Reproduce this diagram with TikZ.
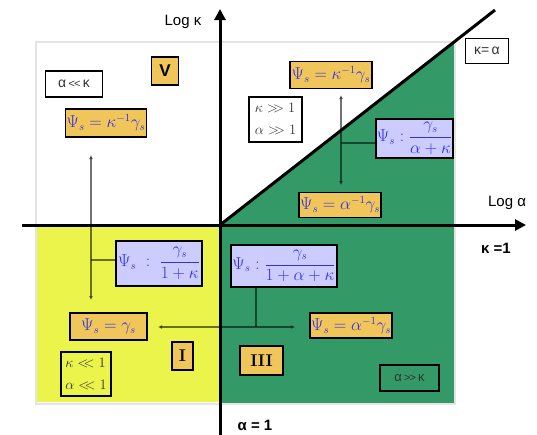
\documentclass[tikz,border=0pt]{standalone}
\usepackage{fontspec}
\newfontfamily\lblfont{Liberation Sans}
\usetikzlibrary{arrows.meta}
\definecolor{ggreen}{HTML}{339966}
\definecolor{yyellow}{HTML}{EAF44B}
\definecolor{oorange}{HTML}{F0C55A}
\definecolor{llav}{HTML}{CCCCFF}
\definecolor{bblue}{HTML}{3030F0}
\definecolor{fframe}{HTML}{E4E4E4}
\definecolor{ddark}{HTML}{333333}
\tikzset{
  mbox/.style={draw=black, line width=1.2pt, inner sep=0pt, text=bblue,
    font=\fontsize{16}{18}\selectfont},
  obox/.style={mbox, fill=oorange},
  lbox/.style={mbox, fill=llav},
  tbox/.style={draw=black, line width=1.2pt, inner sep=0pt, text=ddark},
  roman/.style={draw=black, line width=1.2pt, inner sep=0pt, fill=oorange,
    font=\fontsize{17}{19}\selectfont\bfseries},
  axisline/.style={line width=3pt, -{Triangle[length=11pt,width=11pt]}},
  conn/.style={black, opacity=0.55, line width=1.3pt},
  carrow/.style={conn, {Latex[length=4pt,width=4pt]}-{Latex[length=4pt,width=4pt]}},
  lbl/.style={inner sep=0pt, font=\lblfont\fontsize{15}{17}\selectfont}
}
\newcommand{\gtgt}{\mathrel{>\!\!>}}
\newcommand{\ltlt}{\mathrel{<\!\!<}}
\newcommand{\dfr}[2]{{\displaystyle\frac{#1}{#2}}}
\begin{document}
\begin{tikzpicture}[x=1pt,y=-1pt]
\useasboundingbox (0,0) rectangle (537,434);
\fill[white] (0,0) rectangle (537,434);
% regions
\fill[yyellow] (35,225) rectangle (220,402);
\fill[ggreen] (220,225) rectangle (455,403);
\fill[ggreen] (220,225) -- (455,42) -- (455,225) -- cycle;
\draw[fframe, line width=1.5pt] (36,42) rectangle (455,404);

% boxes
\node[tbox, fill=white, minimum width=43pt, minimum height=25pt,
  font=\lblfont\fontsize{14}{16}\selectfont] (kalpha) at (487,51) {κ=\,α};
\node[tbox, fill=white, minimum width=57pt, minimum height=26pt,
  font=\lblfont\fontsize{14}{16}\selectfont] (allk) at (74,84) {α\,{\fontsize{11}{12}\selectfont<\kern-1pt<}\,κ};
\node[roman, minimum width=27pt, minimum height=28pt, font=\lblfont\fontsize{17}{19}\selectfont\bfseries] (V) at (165,71) {V};
\node[obox, minimum width=81pt, minimum height=28pt] (psiL) at (106,123) {$\Psi_s=\kappa^{-1}\gamma_s$};
\node[obox, minimum width=82pt, minimum height=27pt] (psiR) at (331,75) {$\Psi_s=\kappa^{-1}\gamma_s$};
\node[tbox, fill=white, minimum width=53pt, minimum height=45pt, align=left,
  font=\fontsize{15}{22}\selectfont] (kbig) at (275.5,119.5) {$\kappa\gtgt1$\\$\alpha\gtgt1$};
\node[lbox, minimum width=77pt, minimum height=39pt] (lavR) at (414.5,138.5) {$\Psi_s\;{:}\;\dfr{\gamma_s}{\alpha+\kappa}$};
\node[obox, minimum width=82pt, minimum height=25pt] (psiU) at (340,205) {$\Psi_s=\alpha^{-1}\gamma_s$};
\node[lbox, minimum width=86pt, minimum height=45pt] (lavL) at (159,263.5) {$\Psi_s\;\;{:}\;\;\dfr{\gamma_s}{1+\kappa}$};
\node[obox, minimum width=77pt, minimum height=27pt] (psiG) at (108.5,326.5) {$\Psi_s=\gamma_s$};
\node[roman, minimum width=21pt, minimum height=28pt] (I) at (182.5,356) {I};
\node[tbox, minimum width=50pt, minimum height=44pt, align=left,
  font=\fontsize{15}{22}\selectfont] (ksmall) at (86,374) {$\kappa\ltlt1$\\$\alpha\ltlt1$};
\node[lbox, minimum width=106pt, minimum height=42pt] (lavM) at (284,266) {$\Psi_s\;{:}\;\dfr{\gamma_s}{1+\alpha+\kappa}$};
\node[obox, minimum width=82pt, minimum height=25pt] (psiA) at (351,325.5) {$\Psi_s=\alpha^{-1}\gamma_s$};
\node[roman, minimum width=43pt, minimum height=29pt] (III) at (261.5,360.5) {III};
\node[tbox, minimum width=59pt, minimum height=26pt,
  font=\lblfont\fontsize{13}{15}\selectfont] (agk) at (409.5,378) {α\,{\fontsize{11}{12}\selectfont>\kern-1pt>}\,κ};

% connectors
\coordinate (uTop) at (341,95);
\coordinate (uBot) at (341,185);
\coordinate (uJoin) at (341,143);
\draw[carrow] (uTop) -- (uBot);
\draw[conn] (lavR.west |- uJoin) -- (uJoin);
\coordinate (lTop) at (91,155);
\coordinate (lBot) at (91,300);
\coordinate (lJoin) at (91,260);
\draw[carrow] (lTop) -- (lBot);
\draw[conn] (lavL.west |- lJoin) -- (lJoin);
\coordinate (hL) at (158,327);
\coordinate (hR) at (295,327);
\coordinate (hJoin) at (256,327);
\draw[carrow] (hL) -- (hR);
\draw[conn] (lavM.south -| hJoin) -- (hJoin);

% axes
\coordinate (O) at (220,225);
\coordinate (xL) at (22,225);
\coordinate (xR) at (526,225);
\coordinate (yB) at (220,436);
\coordinate (yT) at (220,9);
\coordinate (dEnd) at (495,10);
\draw[axisline] (xL) -- (xR);
\draw[axisline] (yB) -- (yT);
\draw[line width=3pt] (O) -- (dEnd);

% labels
\node[lbl] (logk) at (183,22) {Log κ};
\node[lbl] (loga) at (507,203) {Log α};
\node[lbl, font=\lblfont\fontsize{15}{17}\selectfont\bfseries] (k1) at (496,248) {κ =1};
\node[lbl, font=\lblfont\fontsize{15}{17}\selectfont\bfseries] (a1) at (255,425) {α = 1};
\end{tikzpicture}
\end{document}
